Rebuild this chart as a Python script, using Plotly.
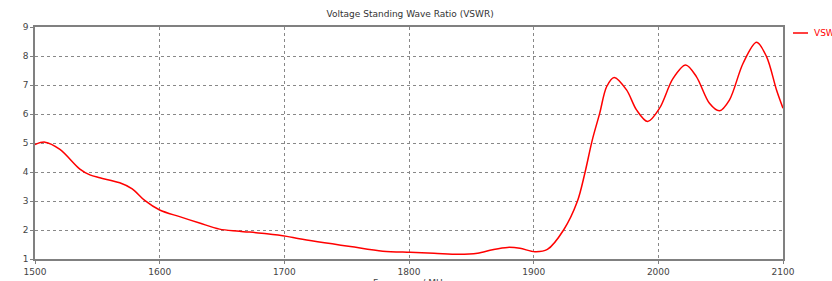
import plotly.graph_objects as go

freq = [1500, 1508, 1520, 1536, 1544, 1552, 1568, 1578, 1588, 1600, 1616, 1632, 1648, 1664,
        1686, 1702, 1712, 1753, 1779, 1801, 1820, 1840, 1855, 1867, 1879, 1889, 1901, 1911,
        1924, 1935, 1941, 1947, 1953, 1958.5, 1964.6, 1974.5, 1982.5, 1991.4, 2001, 2011.7,
        2021.9, 2030.5, 2041, 2049, 2057, 2068, 2078.8, 2086.8, 2094.8, 2100]
vswr = [4.95, 5.03, 4.78, 4.1, 3.9, 3.8, 3.63, 3.42, 3.02, 2.69, 2.46, 2.24, 2.03, 1.96,
        1.87, 1.78, 1.7, 1.43, 1.27, 1.23, 1.2, 1.16, 1.2, 1.32, 1.4, 1.37, 1.25, 1.33,
        2.0, 2.98, 3.95, 5.1, 6.03, 6.94, 7.26, 6.83, 6.14, 5.74, 6.2, 7.22,
        7.69, 7.29, 6.37, 6.11, 6.48, 7.75, 8.47, 7.98, 6.83, 6.2]

x_ticks = [1500, 1600, 1700, 1800, 1900, 2000, 2100]
y_ticks = [1, 2, 3, 4, 5, 6, 7, 8, 9]

fig = go.Figure()
fig.add_trace(go.Scatter(x=freq, y=vswr, mode="lines", name="VSWR",
                         line=dict(color="#ff0000", width=1.5, shape="spline", smoothing=0.9),
                         showlegend=False))

font = dict(family="DejaVu Sans", size=9, color="#444444")
fig.update_layout(
    width=832, height=281,
    margin=dict(l=35, r=49, t=27, b=22, autoexpand=False),
    paper_bgcolor="white", plot_bgcolor="white",
    title=dict(text="Voltage Standing Wave Ratio (VSWR)", x=0.493, xanchor="center",
               y=1 - 14 / 281, yanchor="middle", font=dict(family="DejaVu Sans", size=9, color="#333333")),
    font=font,
)
fig.update_xaxes(range=[1500, 2100], tickvals=x_ticks, showgrid=True, gridcolor="#888888",
                 griddash="dot", gridwidth=1, showline=True, linecolor="#808080", linewidth=1.5,
                 mirror=True, ticks="outside", ticklen=3, tickcolor="#808080",
                 zeroline=False, tickfont=font, automargin=False)
fig.update_yaxes(range=[1, 9], tickvals=y_ticks, showgrid=True, gridcolor="#888888",
                 griddash="dot", gridwidth=1, showline=True, linecolor="#808080", linewidth=1.5,
                 mirror=True, ticks="outside", ticklen=3, tickcolor="#808080",
                 zeroline=False, tickfont=font, automargin=False)

# x-axis title (partly below the visible page, as in the reference)
fig.add_annotation(text="Frequency / MHz", xref="paper", yref="paper", x=(410 - 35) / 748,
                   y=(259 - 276) / 232, xanchor="center", yanchor="top", showarrow=False,
                   font=font)

# legend drawn at right edge
fig.add_shape(type="line", xref="paper", yref="paper",
              x0=(793 - 35) / 748, x1=(808 - 35) / 748, y0=(259 - 33) / 232, y1=(259 - 33) / 232,
              line=dict(color="#ff0000", width=1.5))
fig.add_annotation(text="VSWR", xref="paper", yref="paper", x=(812 - 35) / 748,
                   y=(259 - 33) / 232, xanchor="left", yanchor="middle", showarrow=False,
                   font=dict(family="DejaVu Sans", size=9, color="#ff0000"))

fig.write_html("out.html", config={"displayModeBar": False},
               post_script="document.body.style.margin='0';")
